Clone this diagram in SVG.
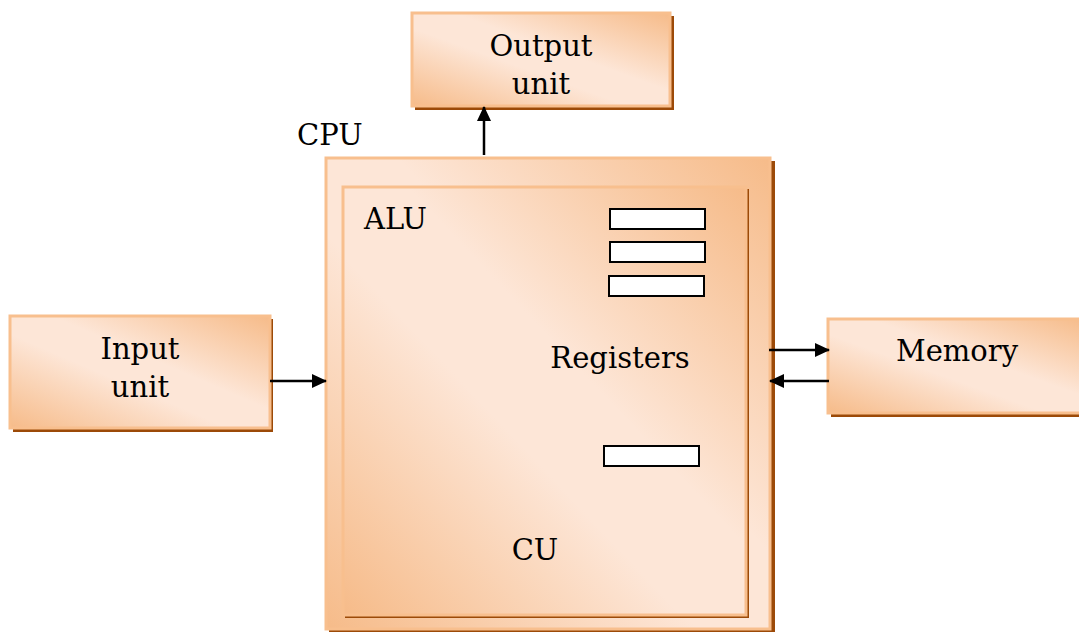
<svg xmlns="http://www.w3.org/2000/svg" width="1079" height="632" viewBox="0 0 1079 632">
<style>
.box{fill:url(#g);stroke:#f8bf8e;stroke-width:3}
.sh{fill:#9c4a08}
.reg{fill:#fff;stroke:#000;stroke-width:2}
.t{font-family:"DejaVu Serif","Liberation Serif",serif;font-size:29px;fill:#000}
.c{stroke:#000;stroke-width:2.5;fill:none;marker-end:url(#ah)}
</style>
<defs>
<linearGradient id="g" x1="0" y1="1" x2="1" y2="0">
<stop offset="0" stop-color="#f6bb89"/>
<stop offset="0.42" stop-color="#fde6d7"/>
<stop offset="0.58" stop-color="#fde6d7"/>
<stop offset="1" stop-color="#f6bb89"/>
</linearGradient>
<marker id="ah" markerWidth="15" markerHeight="14" refX="14" refY="7" orient="auto" markerUnits="userSpaceOnUse">
<path d="M0,0 L15,7 L0,14 Z" fill="#000"/>
</marker>
</defs>
<g id="output">
<rect class="sh" x="415" y="16" width="259" height="94"/>
<rect class="box" x="412" y="13" width="258" height="93"/>
<text class="t" x="541" y="56" text-anchor="middle">Output</text>
<text class="t" x="541" y="94" text-anchor="middle">unit</text>
</g>
<g id="cpu">
<rect class="sh" x="329" y="161" width="446" height="471"/>
<rect class="box" x="326" y="158" width="444" height="471"/>
<text class="t" x="297" y="145">CPU</text>
</g>
<g id="alu">
<rect class="sh" x="345" y="189" width="404" height="429"/>
<rect class="box" x="343" y="187" width="403" height="428"/>
<text class="t" x="364" y="229">ALU</text>
<text class="t" x="535" y="560" text-anchor="middle">CU</text>
</g>
<g id="registers">
<rect class="reg" x="610" y="209" width="95" height="20"/>
<rect class="reg" x="610" y="242" width="95" height="20"/>
<rect class="reg" x="609" y="276" width="95" height="20"/>
<rect class="reg" x="604" y="446" width="95" height="20"/>
<text class="t" x="620" y="368" text-anchor="middle">Registers</text>
</g>
<g id="input">
<rect class="sh" x="13" y="319" width="260" height="113"/>
<rect class="box" x="10" y="316" width="260" height="112"/>
<text class="t" x="140" y="359" text-anchor="middle">Input</text>
<text class="t" x="140" y="397" text-anchor="middle">unit</text>
</g>
<g id="memory">
<rect class="sh" x="831" y="322" width="260" height="95"/>
<rect class="box" x="828" y="319" width="260" height="94"/>
<text class="t" x="957" y="361" text-anchor="middle">Memory</text>
</g>
<g id="connectors">
<line class="c" x1="484" y1="155" x2="484" y2="107"/>
<line class="c" x1="270" y1="381" x2="326" y2="381"/>
<line class="c" x1="769" y1="350" x2="829" y2="350"/>
<line class="c" x1="829" y1="381" x2="770" y2="381"/>
</g>
</svg>
